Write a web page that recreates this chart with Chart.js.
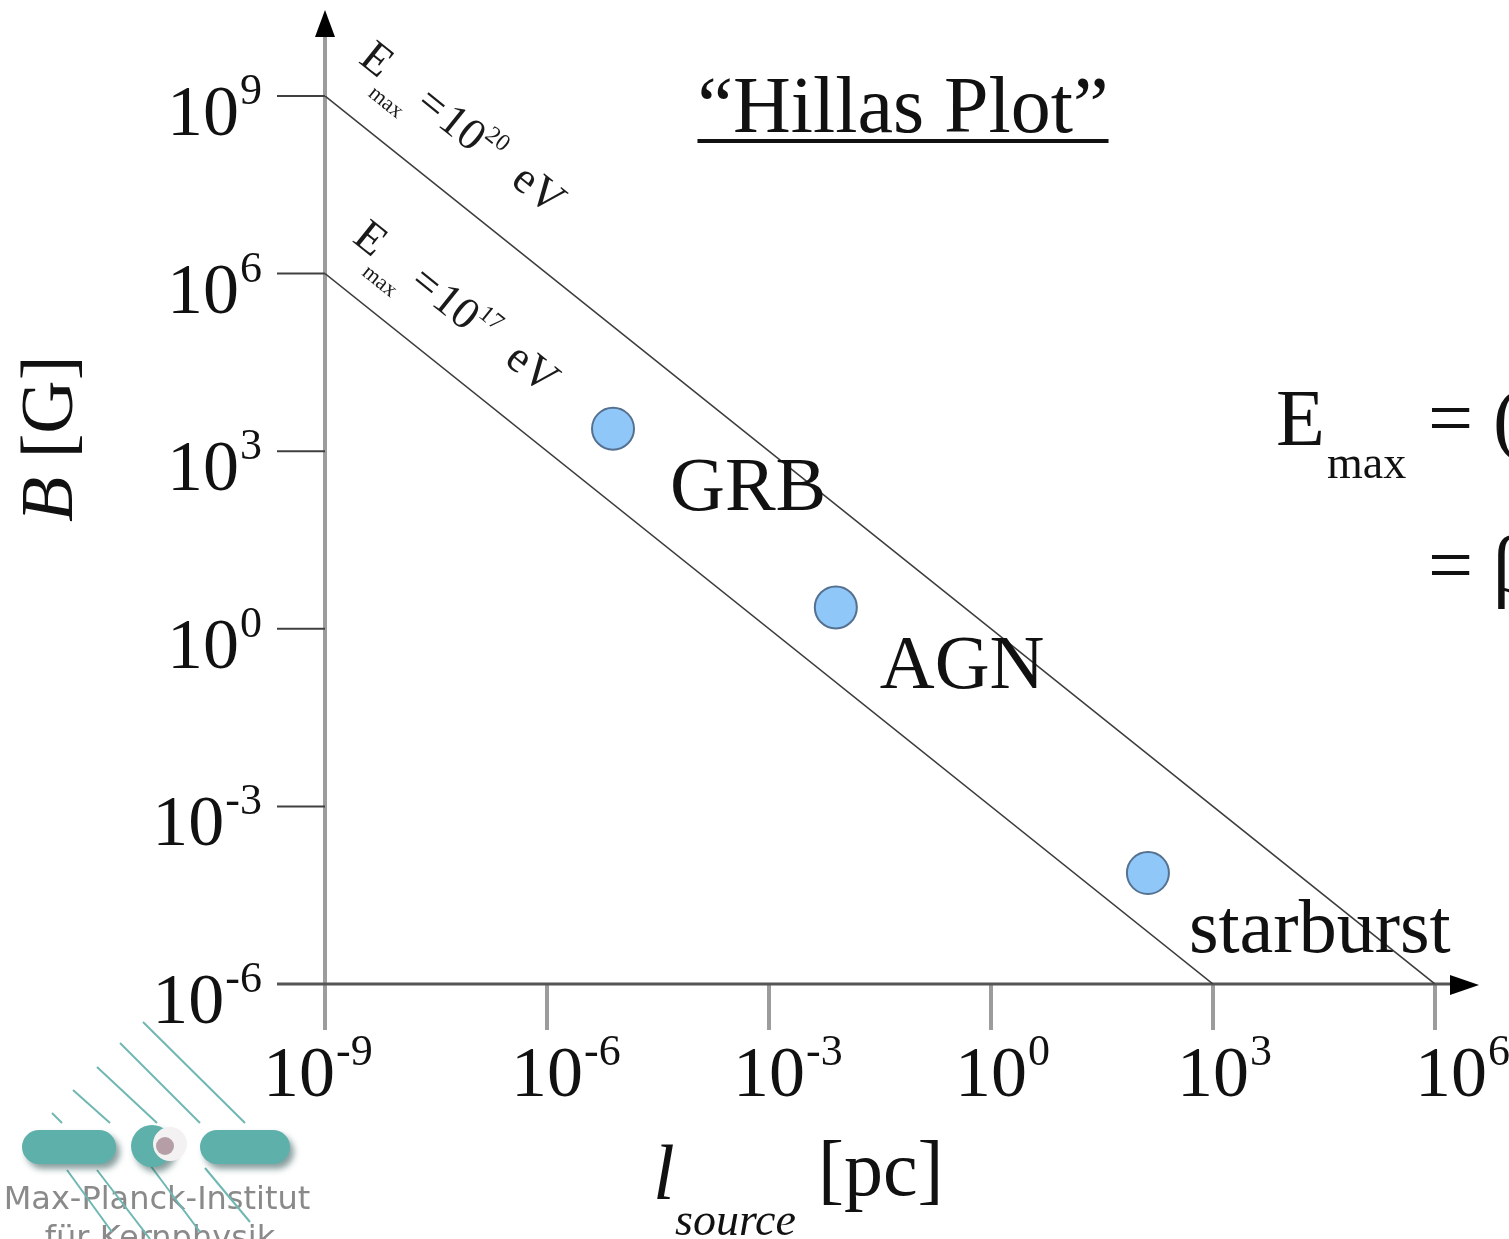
<!DOCTYPE html>
<html>
<head>
<meta charset="utf-8">
<title>Hillas Plot</title>
<script src="https://cdn.jsdelivr.net/npm/chart.js@4.4.1/dist/chart.umd.min.js"></script>
<style>
  html, body { margin: 0; padding: 0; background: #ffffff; }
  canvas { display: block; }
</style>
</head>
<body>
<canvas id="hillas" width="1509" height="1239"></canvas>
<script>
// Tick exponents (powers of ten) on each axis
const xTickExps = [-9, -6, -3, 0, 3, 6];
const yTickExps = [-6, -3, 0, 3, 6, 9];

// Axis ranges
const xRange = [1e-9, 1e6];   // l_source [pc]
const yRange = [1e-6, 1e9];   // B [G]

// Confinement limits: E_max = 10^20 eV and 10^17 eV
const upperLineL = [1e-9, 1e6];
const upperLineB = [1e9, 1e-6];
const lowerLineL = [1e-9, 1e3];
const lowerLineB = [1e6, 1e-6];
const limitExps = ['20', '17'];

// Candidate accelerators
const sourceNames = ['GRB', 'AGN', 'starburst'];
const sourceSize = [7.8e-6, 8.0e-3, 1.32e2];   // l_source [pc]
const sourceField = [2.4e3, 2.3, 7.5e-5];      // B [G]

const SERIF = '"Liberation Serif", "Times New Roman", serif';
const SANS = '"DejaVu Sans", "Liberation Sans", sans-serif';

function pairs(xs, ys) { return xs.map((x, i) => ({ x: x, y: ys[i] })); }

// Draw a sequence of text runs left to right from (x, y)
function drawRuns(ctx, runs, x, y) {
  let cx = x;
  runs.forEach(r => {
    cx += r.gap || 0;
    ctx.font = (r.italic ? 'italic ' : '') + r.size + 'px ' + (r.family || SERIF);
    ctx.fillText(r.text, cx, y + (r.dy || 0));
    cx += ctx.measureText(r.text).width;
  });
  return cx;
}
function runsWidth(ctx, runs) {
  let w = 0;
  runs.forEach(r => {
    w += r.gap || 0;
    ctx.font = (r.italic ? 'italic ' : '') + r.size + 'px ' + (r.family || SERIF);
    w += ctx.measureText(r.text).width;
  });
  return w;
}
function powerRuns(exp, big, small, rise) {
  return [{ text: '10', size: big }, { text: String(exp), size: small, dy: -rise, gap: 1 }];
}

const hillasPlugin = {
  id: 'hillasDecor',
  beforeDatasetsDraw(chart) {
    const ctx = chart.ctx;
    const xs = chart.scales.x, ys = chart.scales.y;
    const x0 = xs.getPixelForValue(xRange[0]);
    const x1 = xs.getPixelForValue(xRange[1]);
    const y0 = ys.getPixelForValue(yRange[0]);
    const yTop = ys.getPixelForValue(yRange[1]);
    ctx.save();
    ctx.lineCap = 'butt';

    // x ticks (light grey, thick)
    ctx.strokeStyle = '#9c9c9c';
    ctx.lineWidth = 4;
    xTickExps.forEach(e => {
      const px = xs.getPixelForValue(Math.pow(10, e));
      ctx.beginPath(); ctx.moveTo(px, y0); ctx.lineTo(px, y0 + 46); ctx.stroke();
    });
    // vertical axis
    ctx.beginPath(); ctx.moveTo(x0, y0 + 46); ctx.lineTo(x0, yTop - 60); ctx.stroke();

    // y ticks
    ctx.strokeStyle = '#404040';
    ctx.lineWidth = 2;
    yTickExps.forEach(e => {
      const py = ys.getPixelForValue(Math.pow(10, e));
      ctx.beginPath(); ctx.moveTo(x0 - 48, py); ctx.lineTo(x0, py); ctx.stroke();
    });
    // horizontal axis
    ctx.strokeStyle = '#555555';
    ctx.lineWidth = 3;
    ctx.beginPath(); ctx.moveTo(x0 - 48, y0); ctx.lineTo(x1 + 17, y0); ctx.stroke();

    // arrow heads
    ctx.fillStyle = '#000000';
    ctx.beginPath();
    ctx.moveTo(x0, yTop - 86); ctx.lineTo(x0 - 10, yTop - 59); ctx.lineTo(x0 + 10, yTop - 59);
    ctx.closePath(); ctx.fill();
    ctx.beginPath();
    ctx.moveTo(x1 + 44, y0 + 1); ctx.lineTo(x1 + 15, y0 - 9); ctx.lineTo(x1 + 15, y0 + 11);
    ctx.closePath(); ctx.fill();
    ctx.restore();
  },
  afterDatasetsDraw(chart) {
    const ctx = chart.ctx;
    const xs = chart.scales.x, ys = chart.scales.y;
    const x0 = xs.getPixelForValue(xRange[0]);
    const y0 = ys.getPixelForValue(yRange[0]);
    ctx.save();
    ctx.fillStyle = '#111111';
    ctx.textBaseline = 'alphabetic';
    ctx.textAlign = 'left';

    // y tick labels
    yTickExps.forEach(e => {
      const py = ys.getPixelForValue(Math.pow(10, e));
      const runs = powerRuns(e, 72, 44, 31);
      const w = runsWidth(ctx, runs);
      drawRuns(ctx, runs, x0 - 63 - w, py + 39);
    });
    // x tick labels: "10" centred under the tick
    const xNudge = { '-9': -26, '6': 16 };
    xTickExps.forEach(e => {
      const px = xs.getPixelForValue(Math.pow(10, e));
      ctx.font = '72px ' + SERIF;
      const base = ctx.measureText('10').width;
      drawRuns(ctx, powerRuns(e, 72, 44, 31), px - base / 2 + (xNudge[String(e)] || 0), y0 + 112);
    });

    // axis titles
    ctx.save();
    ctx.translate(72, 522);
    ctx.rotate(-Math.PI / 2);
    drawRuns(ctx, [{ text: 'B', size: 74, italic: true }, { text: ' [G]', size: 74 }], 0, 0);
    ctx.restore();
    drawRuns(ctx, [{ text: 'l', size: 78, italic: true }], 653, 1199);
    drawRuns(ctx, [{ text: 'source', size: 46, italic: true }], 675, 1235);
    drawRuns(ctx, [{ text: '[pc]', size: 78 }], 818, 1195);

    // title with underline
    ctx.font = '80px ' + SERIF;
    const title = '\u201CHillas Plot\u201D';
    const tw = ctx.measureText(title).width;
    const tx = 903 - tw / 2;
    ctx.fillText(title, tx, 132);
    ctx.fillRect(tx, 139, tw, 4);

    // source labels
    const labelOffsets = [[57, 81], [44, 81], [41, 79]];
    sourceNames.forEach((name, i) => {
      const px = xs.getPixelForValue(sourceSize[i]);
      const py = ys.getPixelForValue(sourceField[i]);
      drawRuns(ctx, [{ text: name, size: 76 }], px + labelOffsets[i][0], py + labelOffsets[i][1]);
    });

    // E_max labels along the two limit lines
    const lines = [[upperLineL, upperLineB, 4, 47], [lowerLineL, lowerLineB, 0, 42]];
    lines.forEach((ln, i) => {
      const ax = xs.getPixelForValue(ln[0][0]), ay = ys.getPixelForValue(ln[1][0]);
      const bx = xs.getPixelForValue(ln[0][1]), by = ys.getPixelForValue(ln[1][1]);
      const ang = Math.atan2(by - ay, bx - ax);
      ctx.save();
      ctx.translate(ax, ay);
      ctx.rotate(ang);
      ctx.fillStyle = '#1a1a1a';
      drawRuns(ctx, [
        { text: 'E', size: 45 },
        { text: 'max', size: 22, dy: 20, gap: 1 },
        { text: '=', size: 45, gap: 6 },
        { text: '10', size: 45, gap: 3 },
        { text: limitExps[i], size: 24, dy: -20 },
        { text: 'eV', size: 45, gap: 25 }
      ], ln[2], -ln[3]);
      ctx.restore();
    });

    // formula at the right edge
    drawRuns(ctx, [{ text: 'E', size: 80 }], 1276, 445);
    drawRuns(ctx, [{ text: 'max', size: 46 }], 1327, 478);
    drawRuns(ctx, [{ text: '= (', size: 80 }], 1428, 445);
    drawRuns(ctx, [{ text: '= \u03B2', size: 80 }], 1428, 592);

    // institute logo, bottom left
    ctx.fillStyle = '#8a8a8a';
    ctx.font = '32px ' + SANS;
    ctx.textAlign = 'center';
    ctx.fillText('Max-Planck-Institut', 157, 1209);
    ctx.fillText('f\u00FCr Kernphysik', 160, 1248);
    ctx.strokeStyle = '#6fb7b2';
    ctx.lineWidth = 2;
    [[143, 1022, 245, 1123], [120, 1043, 200, 1123], [97, 1067, 157, 1123],
     [73, 1090, 110, 1123], [52, 1113, 62, 1123],
     [67, 1170, 112, 1232], [97, 1170, 150, 1239], [150, 1165, 200, 1232], [205, 1168, 250, 1222]]
      .forEach(s => { ctx.beginPath(); ctx.moveTo(s[0], s[1]); ctx.lineTo(s[2], s[3]); ctx.stroke(); });
    ctx.save();
    ctx.shadowColor = 'rgba(40,80,80,0.55)';
    ctx.shadowOffsetX = 4; ctx.shadowOffsetY = 5; ctx.shadowBlur = 6;
    ctx.fillStyle = '#5eb0ab';
    const pill = (x, y, w, h) => {
      const r = h / 2;
      ctx.beginPath();
      ctx.moveTo(x + r, y); ctx.lineTo(x + w - r, y);
      ctx.arc(x + w - r, y + r, r, -Math.PI / 2, Math.PI / 2);
      ctx.lineTo(x + r, y + h);
      ctx.arc(x + r, y + r, r, Math.PI / 2, Math.PI * 1.5);
      ctx.closePath(); ctx.fill();
    };
    pill(22, 1130, 94, 34);
    pill(200, 1130, 90, 34);
    ctx.beginPath(); ctx.arc(152, 1146, 21, 0, Math.PI * 2); ctx.fill();
    ctx.restore();
    ctx.fillStyle = '#f4f1f2';
    ctx.beginPath(); ctx.arc(170, 1144, 17, 0, Math.PI * 2); ctx.fill();
    ctx.fillStyle = '#b59ea6';
    ctx.beginPath(); ctx.arc(165, 1146, 9, 0, Math.PI * 2); ctx.fill();
    ctx.restore();
  }
};

new Chart(document.getElementById('hillas'), {
  type: 'scatter',
  data: {
    datasets: [
      {
        label: 'E_max = 10^20 eV',
        type: 'line',
        data: pairs(upperLineL, upperLineB),
        borderColor: '#3c3c3c',
        borderWidth: 1.6,
        pointRadius: 0,
        fill: false
      },
      {
        label: 'E_max = 10^17 eV',
        type: 'line',
        data: pairs(lowerLineL, lowerLineB),
        borderColor: '#3c3c3c',
        borderWidth: 1.6,
        pointRadius: 0,
        fill: false
      },
      {
        label: 'sources',
        data: pairs(sourceSize, sourceField),
        backgroundColor: '#90c7f9',
        borderColor: '#557190',
        borderWidth: 2,
        pointRadius: 21
      }
    ]
  },
  options: {
    responsive: false,
    animation: false,
    devicePixelRatio: 1,
    events: [],
    layout: { padding: { left: 325, right: 74, top: 96, bottom: 255 } },
    plugins: { legend: { display: false }, tooltip: { enabled: false }, title: { display: false } },
    scales: {
      x: { type: 'logarithmic', min: xRange[0], max: xRange[1], display: false },
      y: { type: 'logarithmic', min: yRange[0], max: yRange[1], display: false }
    },
    elements: { line: { tension: 0 } }
  },
  plugins: [hillasPlugin]
});
</script>
</body>
</html>
